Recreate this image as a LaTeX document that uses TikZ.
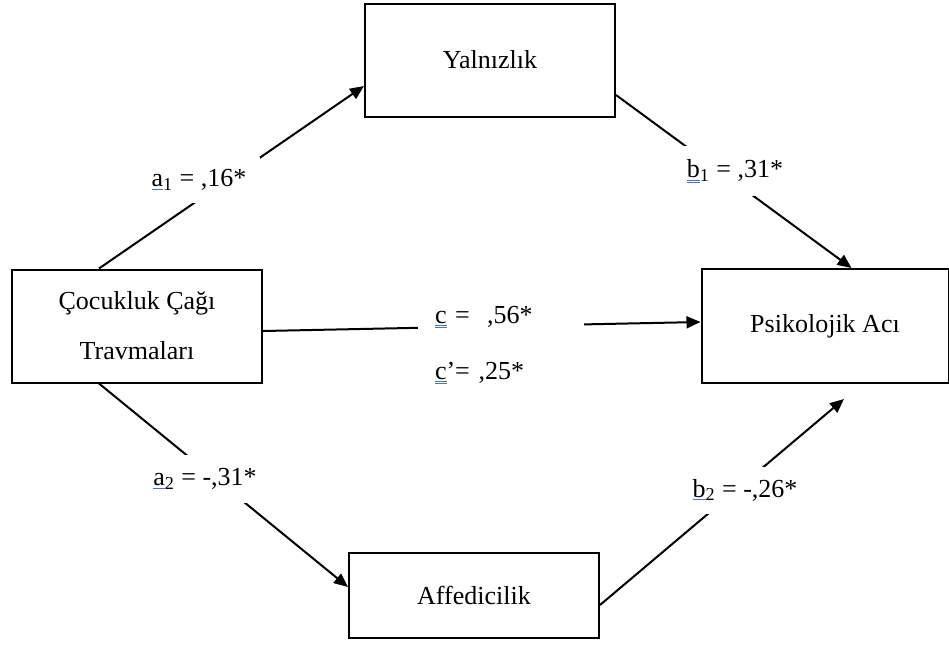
\documentclass[tikz,border=0pt]{standalone}
\usepackage{fontspec}
\setmainfont{Liberation Serif}
\usetikzlibrary{arrows.meta,calc,positioning}
\definecolor{spellblue}{RGB}{68,114,196}
\newsavebox{\spellbox}
\newcommand{\spellone}[1]{\sbox{\spellbox}{#1}\rlap{\color{spellblue}\rule[-1.6pt]{\wd\spellbox}{0.4pt}}#1}
\newcommand{\spelltwo}[1]{\sbox{\spellbox}{#1}\rlap{\color{spellblue}\rule[-1.3pt]{\wd\spellbox}{0.35pt}}\rlap{\color{spellblue}\rule[-2.4pt]{\wd\spellbox}{0.35pt}}#1}
\tikzset{
  link/.style={-{Triangle[length=7pt,width=6pt]}, line width=1pt, draw=black},
  box/.style={draw=black, line width=1pt, rectangle, minimum width=125pt, minimum height=56.5pt, align=center, font=\fontsize{13}{25}\selectfont},
  coef/.style={fill=white, inner sep=0pt, font=\fontsize{13}{15}\selectfont}
}
\begin{document}
\begin{tikzpicture}[x=0.5pt,y=-0.5pt]
  \useasboundingbox (0,0) rectangle (949,671);

  \node[box] (cocuk) at (137,326) {Çocukluk Çağı\\Travmaları};
  \node[box] (yaln) at (490,60) {Yalnızlık};
  \node[box, minimum width=123.5pt, minimum height=57pt] (psik) at (825,326) {Psikolojik Acı};
  \node[box, minimum height=42.5pt] (affe) at (474,595) {Affedicilik};
  \coordinate (b2end) at (844,399);

  \draw[link] ([xshift=44pt]cocuk.north west) -- ([yshift=-13pt]yaln.west);
  \draw[link] ([yshift=-17.5pt]yaln.east) -- ([xshift=75.5pt]psik.north west);
  \draw[link] ([yshift=-2.5pt]cocuk.east) -- ([yshift=2pt]psik.west);
  \draw[link] ([xshift=44pt]cocuk.south west) -- ([yshift=4pt]affe.west);
  \draw[link] ([yshift=-5pt]affe.east) -- (b2end);

  % coefficients
  \node[coef, minimum width=61pt, minimum height=23pt] (a1) at (199,180) {\spellone{a}\textsubscript{1} = ,16*};
  \node[coef, minimum width=55pt, minimum height=25pt] (b1) at (735,171) {\spelltwo{b}\textsubscript{1} = ,31*};
  \node[coef, minimum width=57pt, minimum height=24pt] (a2) at (205,479) {\spellone{a}\textsubscript{2} = -,31*};
  \node[coef, minimum width=57pt, minimum height=23.5pt] (b2) at (745,490) {\spellone{b}\textsubscript{2} = -,26*};
  \node[coef, text width=83pt, align=left, minimum height=55pt, font=\fontsize{13}{28}\selectfont] (c) at (501,345)
    {\hspace*{8.5pt}\spelltwo{c} =\ \ ,56*\\\hspace*{8.5pt}\spelltwo{c}’= ,25*};
\end{tikzpicture}
\end{document}
